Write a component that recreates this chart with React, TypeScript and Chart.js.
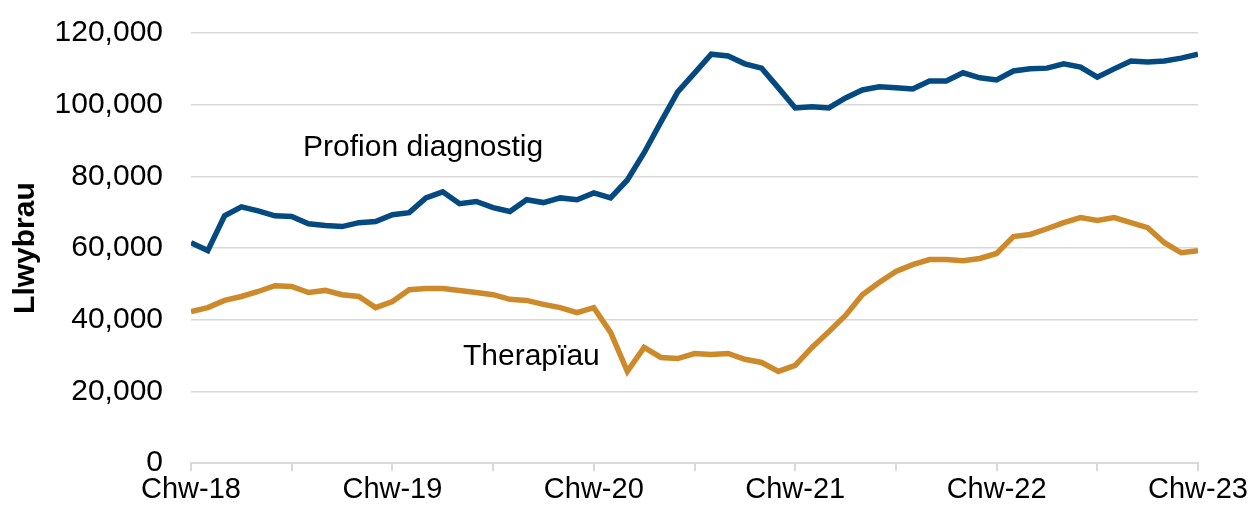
import React, { useEffect, useRef } from "react";
import { Chart, registerables } from "chart.js";

Chart.register(...registerables);

const MONTHS: string[] = [
  "Chw-18","Maw-18","Ebr-18","Mai-18","Meh-18","Gor-18","Aws-18","Med-18","Hyd-18","Tach-18","Rhag-18","Ion-19",
  "Chw-19","Maw-19","Ebr-19","Mai-19","Meh-19","Gor-19","Aws-19","Med-19","Hyd-19","Tach-19","Rhag-19","Ion-20",
  "Chw-20","Maw-20","Ebr-20","Mai-20","Meh-20","Gor-20","Aws-20","Med-20","Hyd-20","Tach-20","Rhag-20","Ion-21",
  "Chw-21","Maw-21","Ebr-21","Mai-21","Meh-21","Gor-21","Aws-21","Med-21","Hyd-21","Tach-21","Rhag-21","Ion-22",
  "Chw-22","Maw-22","Ebr-22","Mai-22","Meh-22","Gor-22","Aws-22","Med-22","Hyd-22","Tach-22","Rhag-22","Ion-23",
  "Chw-23",
];

const DIAGNOSTIG: number[] = [
  61500, 59300, 69000, 71500, 70400, 69000, 68800, 66800, 66300, 66000, 67100, 67400,
  69300, 69900, 74000, 75700, 72400, 73000, 71300, 70200, 73500, 72700, 74000, 73500,
  75400, 74000, 79000, 86600, 95200, 103600, 108800, 114100, 113600, 111400, 110200, 104700,
  99100, 99400, 99100, 101900, 104100, 105000, 104700, 104400, 106600, 106600, 108900, 107500,
  106900, 109400, 110000, 110200, 111400, 110500, 107700, 110000, 112200, 111900, 112200, 113000,
  114100,
];

const THERAPIAU: number[] = [
  42300, 43400, 45400, 46500, 47900, 49500, 49300, 47600, 48200, 47000, 46500, 43400,
  45100, 48400, 48700, 48700, 48200, 47600, 47000, 45700, 45400, 44300, 43400, 42000,
  43400, 36500, 25600, 32300, 29500, 29200, 30600, 30300, 30600, 29000, 28100, 25600,
  27300, 32300, 36700, 41200, 47000, 50400, 53500, 55400, 56800, 56800, 56500, 57100,
  58500, 63200, 63800, 65400, 67100, 68500, 67700, 68500, 67100, 65700, 61500, 58700,
  59300,
];

const SERIES_NAMES: string[] = ["Profion diagnostig", "Therapïau"];
const Y_TICKS: number[] = [0, 20000, 40000, 60000, 80000, 100000, 120000];
const Y_TITLE = "Llwybrau";

// label anchors (month index, value) at the text baseline centre
const LABEL_POS: [number, number][] = [
  [13.83, 85750],
  [20.28, 27300],
];

const FONT = "'Liberation Sans', Arial, sans-serif";

const labelPlugin = {
  id: "seriesLabels",
  afterDatasetsDraw(chart: any) {
    const { ctx, scales } = chart;
    ctx.save();
    ctx.font = `30px ${FONT}`;
    ctx.fillStyle = "#000000";
    ctx.textAlign = "center";
    ctx.textBaseline = "alphabetic";
    SERIES_NAMES.forEach((name, i) => {
      const [ix, v] = LABEL_POS[i];
      ctx.fillText(name, scales.x.getPixelForValue(ix), scales.y.getPixelForValue(v));
    });
    ctx.restore();
  },
};

export default function App() {
  const ref = useRef<HTMLCanvasElement | null>(null);
  useEffect(() => {
    if (!ref.current) return;
    const chart = new Chart(ref.current, {
      type: "line",
      data: {
        datasets: [
          {
            label: SERIES_NAMES[0],
            data: DIAGNOSTIG.map((v, i) => ({ x: i, y: v })),
            borderColor: "#044A80",
            borderWidth: 5.5,
            pointRadius: 0,
            tension: 0,
            fill: false,
          },
          {
            label: SERIES_NAMES[1],
            data: THERAPIAU.map((v, i) => ({ x: i, y: v })),
            borderColor: "#CD8A2B",
            borderWidth: 5.5,
            pointRadius: 0,
            tension: 0,
            fill: false,
          },
        ],
      },
      options: {
        animation: false,
        responsive: true,
        maintainAspectRatio: false,
        layout: { padding: { left: 0, right: 54, top: 33, bottom: 4 } },
        plugins: {
          legend: { display: false },
          tooltip: { enabled: false },
        },
        scales: {
          x: {
            type: "linear",
            min: 0,
            max: MONTHS.length - 1,
            afterBuildTicks: (axis: any) => {
              axis.ticks = [];
              for (let i = 0; i < MONTHS.length; i += 6) axis.ticks.push({ value: i });
            },
            ticks: {
              autoSkip: false,
              maxRotation: 0,
              padding: 1,
              color: "#000000",
              font: { family: FONT, size: 29 },
              callback: (v: any) => (Number(v) % 12 === 0 ? MONTHS[Number(v)] : ""),
            },
            grid: {
              drawOnChartArea: false,
              drawTicks: true,
              tickLength: 8,
              color: "#D9D9D9",
              lineWidth: 2,
            },
            border: { display: true, color: "#D9D9D9", width: 2 },
          },
          y: {
            min: 0,
            max: 120000,
            afterBuildTicks: (axis: any) => {
              axis.ticks = Y_TICKS.map((v) => ({ value: v }));
            },
            afterFit: (axis: any) => {
              axis.width = 191;
              axis.paddingTop = 0;
              axis.paddingBottom = 0;
            },
            title: {
              display: true,
              text: Y_TITLE,
              color: "#000000",
              font: { family: FONT, size: 30, weight: "bold" },
              padding: { top: 8, bottom: 0 },
            },
            ticks: {
              color: "#000000",
              padding: 28,
              font: { family: FONT, size: 30 },
              callback: (v: any) => Number(v).toLocaleString("en-GB"),
            },
            grid: {
              color: "#D9D9D9",
              lineWidth: 1.5,
              drawTicks: false,
            },
            border: { display: false },
          },
        },
      },
      plugins: [labelPlugin],
    });
    return () => chart.destroy();
  }, []);
  return (
    <div style={{ position: "absolute", left: 0, top: 0, width: 1252, height: 512, background: "#fff" }}>
      <canvas ref={ref} />
    </div>
  );
}
